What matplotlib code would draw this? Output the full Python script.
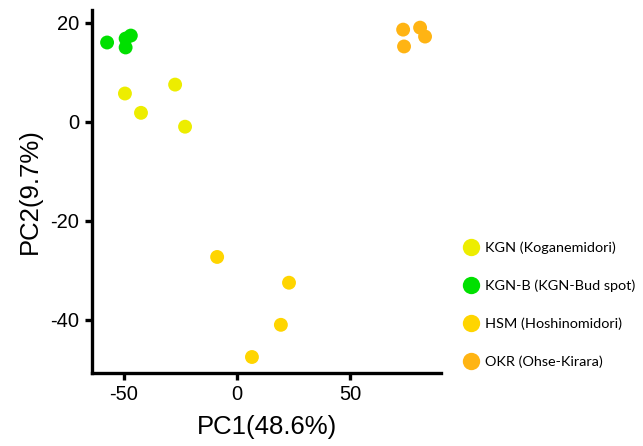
import matplotlib
matplotlib.use("Agg")
import matplotlib.pyplot as plt
from matplotlib.lines import Line2D

# PCA scores
kgn_pc1 = [-49.6, -42.5, -27.4, -23.0]
kgn_pc2 = [5.7, 1.8, 7.5, -1.0]

kgnb_pc1 = [-57.5, -49.3, -47.0, -49.3]
kgnb_pc2 = [16.0, 16.8, 17.4, 15.0]

hsm_pc1 = [-8.8, 23.0, 19.4, 6.6]
hsm_pc2 = [-27.3, -32.5, -41.0, -47.5]

okr_pc1 = [73.5, 81.0, 83.2, 73.9]
okr_pc2 = [18.6, 19.0, 17.2, 15.2]

labels = ["KGN (Koganemidori)", "KGN-B (KGN-Bud spot)",
          "HSM (Hoshinomidori)", "OKR (Ohse-Kirara)"]
colors = ["#EDED00", "#00E000", "#FFD500", "#FFB413"]

plt.rcParams["font.family"] = ["Liberation Sans", "DejaVu Sans"]
plt.rcParams["axes.unicode_minus"] = False

fig = plt.figure(figsize=(6.43, 4.46), dpi=100)
ax = fig.add_axes([0.143, 0.164, 0.543, 0.814])

groups = [(kgn_pc1, kgn_pc2), (kgnb_pc1, kgnb_pc2),
          (hsm_pc1, hsm_pc2), (okr_pc1, okr_pc2)]
for (x, y), c in zip(groups, colors):
    ax.scatter(x, y, s=100, color=c, edgecolors="none", zorder=3)

ax.set_xlim(-64.2, 90.3)
ax.set_ylim(-50.7, 22.6)
ax.set_xticks([-50, 0, 50])
ax.set_yticks([20, 0, -20, -40])

for side in ["top", "right"]:
    ax.spines[side].set_visible(False)
for side in ["left", "bottom"]:
    ax.spines[side].set_linewidth(2.4)
ax.tick_params(width=2.4, length=5, labelsize=14.5, pad=4)

ax.set_xlabel("PC1(48.6%)", fontsize=18.5, labelpad=8)
ax.set_ylabel("PC2(9.7%)", fontsize=18.5, labelpad=6)

handles = [Line2D([], [], marker="o", linestyle="none", markersize=12.5,
                  markerfacecolor=c, markeredgecolor="none") for c in colors]
fig.legend(handles, labels, loc="upper left", bbox_to_anchor=(0.699, 0.487),
           frameon=False, handletextpad=0.35, labelspacing=1.75,
           prop={"family": ["Lato", "DejaVu Sans"], "size": 10.4},
           handlelength=1.2)

fig.savefig("out.png", dpi=100)
